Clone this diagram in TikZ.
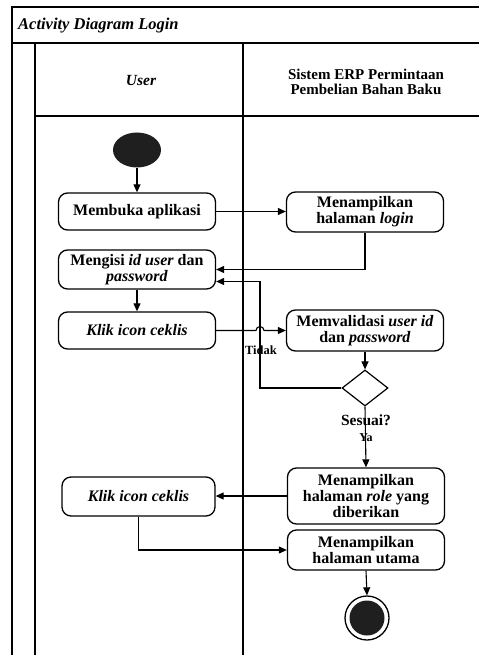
\documentclass[tikz,border=0pt]{standalone}
\usepackage{fontspec}
\setmainfont{Liberation Serif}
\usetikzlibrary{shapes.geometric,arrows.meta,calc}
\begin{document}
\begin{tikzpicture}[x=1pt,y=-1pt,
  frame/.style={line width=1.3pt},
  act/.style={draw,rounded corners=9pt,line width=1.3pt,minimum width=157pt,align=center,
    font=\fontsize{16}{16}\selectfont\bfseries,inner sep=2pt},
  arr/.style={line width=1.1pt,-{Triangle[length=8pt,width=7pt]}},
  lbl/.style={font=\fontsize{12.5}{12.5}\selectfont\bfseries,inner sep=0pt},
  head/.style={font=\fontsize{15}{15.5}\selectfont\bfseries,align=center}
]
\useasboundingbox (0,0) rectangle (479,655);
\fill[white] (0,0) rectangle (479,655);
% frame
\draw[frame] (12,655) -- (12,7) -- (479,7);
\draw[frame] (12,43) -- (479,43);
\draw[frame] (35,655) -- (35,43);
\draw[frame] (35,116) -- (479,116);
\draw[frame] (243,43) -- (243,655);
\node[anchor=base west,font=\fontsize{16.5}{16.5}\selectfont\bfseries\itshape,inner sep=0pt] (title) at (18,30) {Activity Diagram Login};
\node[head,font=\fontsize{15.5}{15.5}\selectfont\bfseries\itshape] (user) at (141,81) {User};
\node[head] (sistem) at (366,82) {Sistem ERP Permintaan\\Pembelian Bahan Baku};
% nodes
\node[ellipse,fill=black!88,minimum width=48pt,minimum height=35pt,inner sep=0pt] (start) at (137,150) {};
\node[act,minimum height=37pt] (open) at (137,211.5) {Membuka aplikasi};
\node[act,minimum height=40pt] (login) at (365,212) {Menampilkan\\halaman \textit{login}};
\node[act,minimum height=39pt] (mengisi) at (137,269.5) {Mengisi \textit{id user} dan\\\textit{password}};
\node[act,minimum height=37pt,font=\fontsize{16}{16}\selectfont\bfseries\itshape] (klik1) at (137,330.5) {Klik icon ceklis};
\node[act,minimum height=41pt] (val) at (365,330.5) {Memvalidasi \textit{user id}\\dan \textit{password}};
\node[diamond,draw,line width=1.2pt,minimum width=46pt,minimum height=36pt,inner sep=0pt] (dec) at (365,388) {};
\node[act,minimum height=56pt] (role) at (366,496) {Menampilkan\\halaman \textit{role} yang\\diberikan};
\node[act,minimum height=39pt,minimum width=153pt,font=\fontsize{16}{16}\selectfont\bfseries\itshape] (klik2) at (138.5,496.5) {Klik icon ceklis};
\node[act,minimum height=40pt] (utama) at (366,550) {Menampilkan\\halaman utama};
\node[circle,draw,line width=1.3pt,minimum size=44pt,inner sep=0pt] (end) at (367,618) {};
\node[circle,fill=black!88,minimum size=35pt,inner sep=0pt] (endin) at (end.center) {};
% labels
\node[lbl] (tidak) at (261,350) {Tidak};
\node[font=\fontsize{15.5}{15.5}\selectfont\bfseries,inner sep=0pt] (sesuai) at (366,420) {Sesuai?};
\node[font=\fontsize{12}{12}\selectfont\bfseries,inner sep=0pt] (ya) at (366,438) {Ya};
% connectors
\draw[arr] (start.south) -- (open.north);
\draw[arr] (open.east) -- (open.east -| login.west);
\draw[arr] (login.south) |- (mengisi.east);
\coordinate (m2) at ($(mengisi.east)+(0,12)$);
\coordinate (tk) at (260,388);
\draw[arr] (dec.west) -- (tk) |- (m2);
\draw[arr] (mengisi.south) -- (klik1.north);
\coordinate (hl) at (256,330.5);
\draw[arr] (klik1.east) -- (hl) arc[start angle=180,end angle=0,radius=4pt] -- (val.west);
\draw[arr] (val.south) -- (dec.north);
\draw[arr] (dec.south) -- (role.north);
\draw[arr] (role.west) -- (role.west -| klik2.east);
\coordinate (kb) at (klik2.south |- utama.west);
\draw[arr] (klik2.south) -- (kb) -- (utama.west);
\draw[arr] (utama.south) -- (end.north);
\end{tikzpicture}
\end{document}
